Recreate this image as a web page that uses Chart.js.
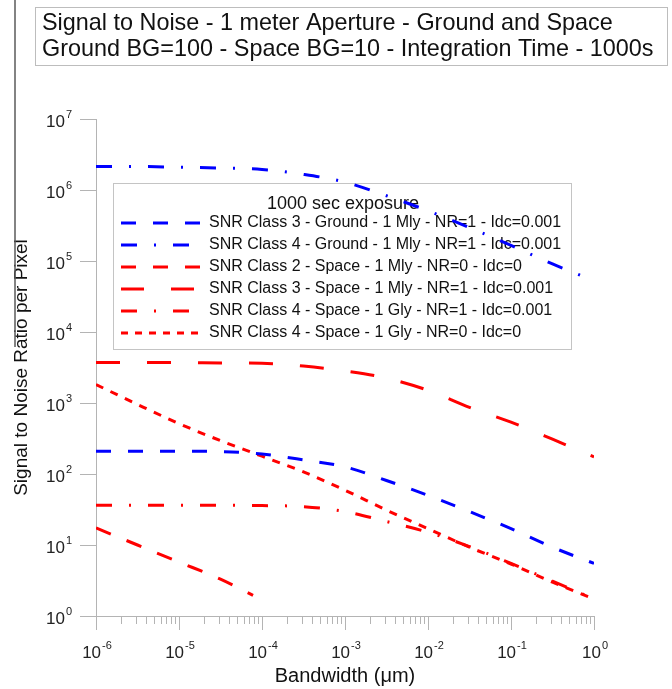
<!DOCTYPE html>
<html>
<head>
<meta charset="utf-8">
<script src="https://cdn.jsdelivr.net/npm/chart.js@4"></script>
<style>
  html, body { margin: 0; padding: 0; background: #fff; }
</style>
</head>
<body>
<canvas id="snrChart" width="672" height="689"></canvas>
<script>
const titleLines = [
    'Signal to Noise - 1 meter Aperture - Ground and Space',
    'Ground BG=100 - Space BG=10 - Integration Time - 1000s'
];
const legendTitle = '1000 sec exposure';

// bandwidth in micrometres (half-decade steps)
const bandwidth = [1e-6, 3.16e-6, 1e-5, 3.16e-5, 1e-4, 3.16e-4, 1e-3, 3.16e-3, 1e-2, 3.16e-2, 0.1, 0.316, 1];
const bandwidthC4Ground = [1e-6, 3.16e-6, 1e-5, 3.16e-5, 1e-4, 3.16e-4, 1e-3, 3.16e-3, 1e-2, 3.16e-2, 0.1, 0.316, 0.68];
const bandwidthC2Space = [1e-6, 3.16e-6, 1e-5, 3.16e-5, 7.8e-5];

const xTicks = [1e-6, 1e-5, 1e-4, 1e-3, 1e-2, 1e-1, 1];
const yTicks = [1, 10, 100, 1e3, 1e4, 1e5, 1e6, 1e7];

const snrC3Ground = [209, 209, 209, 207, 191, 158, 126, 81, 50, 29.5, 17, 9.3, 5.5];
const snrC4Ground = [2.14e6, 2.14e6, 2.09e6, 2.04e6, 1.95e6, 1.66e6, 1.29e6, 8.3e5, 5.1e5, 2.95e5, 1.66e5, 9.1e4, 6.3e4];
const snrC2Space = [17.4, 10, 5.75, 3.3, 1.95];
const snrC3Space = [3720, 3720, 3720, 3670, 3630, 3310, 2820, 2240, 1510, 870, 537, 309, 174];
const snrC4SpaceNR1 = [36.3, 36.3, 36.3, 36.3, 35.9, 34.7, 29.5, 21.4, 15.1, 9.5, 5.5, 3.1, 1.74];
const snrC4SpaceNR0 = [1820, 955, 513, 295, 178, 107, 59, 31, 17, 9.3, 5.4, 3.0, 1.74];

const FONT = '"Liberation Sans", Arial, sans-serif';
const BLUE = '#0000ff';
const RED = '#ff0000';
const GREY = '#b4b4b4';

const pts = (xs, ys) => ys.map((v, i) => ({ x: xs[i], y: v }));
const expOf = v => String(Math.round(Math.log10(v)));

// title box, legend box and the stray frame line of the original
const frames = {
    id: 'frames',
    beforeDatasetsDraw(chart) {
        const ctx = chart.ctx;
        ctx.save();
        ctx.strokeStyle = '#5a5a5a';
        ctx.lineWidth = 1.5;
        ctx.beginPath();
        ctx.moveTo(15, 0);
        ctx.lineTo(15, 347);
        ctx.stroke();

        ctx.strokeStyle = '#bdbdbd';
        ctx.lineWidth = 1;
        ctx.strokeRect(35.5, 7.5, 632, 58);
        ctx.fillStyle = '#111';
        ctx.font = '23.4px ' + FONT;
        ctx.textBaseline = 'middle';
        titleLines.forEach((t, i) => ctx.fillText(t, 42, 24 + i * 26));

        ctx.strokeStyle = '#c4c4c4';
        ctx.strokeRect(113.5, 183.5, 458, 166);
        ctx.font = '18px ' + FONT;
        ctx.textAlign = 'center';
        ctx.fillText(legendTitle, 343, 204);
        ctx.textAlign = 'left';
        ctx.font = '16px ' + FONT;
        chart.data.datasets.forEach((ds, i) => {
            const ly = 223 + i * 22;
            ctx.strokeStyle = ds.borderColor;
            ctx.lineWidth = 3;
            ctx.setLineDash(ds.legendDash);
            ctx.beginPath();
            ctx.moveTo(121, ly);
            ctx.lineTo(202, ly);
            ctx.stroke();
            ctx.setLineDash([]);
            ctx.fillStyle = '#111';
            ctx.fillText(ds.label, 209, ly);
        });
        ctx.restore();
    }
};

// minor x ticks and the 10^n tick labels with raised exponents
const axisDecor = {
    id: 'axisDecor',
    afterDraw(chart) {
        const sx = chart.scales.x, sy = chart.scales.y, ctx = chart.ctx;
        const area = chart.chartArea;
        ctx.save();
        ctx.strokeStyle = GREY;
        ctx.lineWidth = 1;
        ctx.beginPath();
        for (let e = -6; e < 0; e++) {
            for (let k = 2; k <= 9; k++) {
                const px = Math.round(sx.getPixelForValue(k * Math.pow(10, e))) + 0.5;
                ctx.moveTo(px, area.bottom);
                ctx.lineTo(px, area.bottom + 8);
            }
        }
        ctx.stroke();

        ctx.fillStyle = '#222';
        ctx.textBaseline = 'middle';
        ctx.textAlign = 'left';
        const label = (v, left, cy) => {
            ctx.font = '17px ' + FONT;
            ctx.fillText('10', left, cy);
            const bw = ctx.measureText('10').width;
            ctx.font = '11px ' + FONT;
            ctx.fillText(expOf(v), left + bw + 1, cy - 7);
        };
        const widthOf = v => {
            ctx.font = '17px ' + FONT;
            const bw = ctx.measureText('10').width;
            ctx.font = '11px ' + FONT;
            return bw + 1 + ctx.measureText(expOf(v)).width;
        };
        sx.ticks.forEach(t => {
            const px = sx.getPixelForValue(t.value);
            label(t.value, px - widthOf(t.value) / 2 + 1, area.bottom + 37);
        });
        sy.ticks.forEach(t => {
            const py = sy.getPixelForValue(t.value);
            label(t.value, area.left - 24 - widthOf(t.value), py + 3);
        });
        ctx.restore();
    }
};

new Chart(document.getElementById('snrChart'), {
    type: 'line',
    data: {
        datasets: [
            { label: 'SNR Class 3 - Ground - 1 Mly - NR=1 - Idc=0.001', data: pts(bandwidth, snrC3Ground),
              borderColor: BLUE, borderDash: [15, 17], legendDash: [15, 17] },
            { label: 'SNR Class 4 - Ground - 1 Mly - NR=1 - Idc=0.001', data: pts(bandwidthC4Ground, snrC4Ground),
              borderColor: BLUE, borderDash: [16, 17, 2, 17], legendDash: [16, 17, 2, 17] },
            { label: 'SNR Class 2 - Space - 1 Mly - NR=0 - Idc=0', data: pts(bandwidthC2Space, snrC2Space),
              borderColor: RED, borderDash: [16, 17], legendDash: [15, 17] },
            { label: 'SNR Class 3 - Space - 1 Mly - NR=1 - Idc=0.001', data: pts(bandwidth, snrC3Space),
              borderColor: RED, borderDash: [24, 27], legendDash: [23, 27] },
            { label: 'SNR Class 4 - Space - 1 Gly - NR=1 - Idc=0.001', data: pts(bandwidth, snrC4SpaceNR1),
              borderColor: RED, borderDash: [16, 17, 2, 17], legendDash: [16, 17, 2, 17] },
            { label: 'SNR Class 4 - Space - 1 Gly - NR=0 - Idc=0', data: pts(bandwidth, snrC4SpaceNR0),
              borderColor: RED, borderDash: [8, 8], legendDash: [7, 7] }
        ]
    },
    options: {
        responsive: false,
        animation: false,
        layout: { padding: { left: 0, top: 119, right: 78, bottom: 0 } },
        elements: {
            point: { radius: 0 },
            line: { borderWidth: 3, borderCapStyle: 'butt', cubicInterpolationMode: 'monotone', fill: false }
        },
        plugins: { legend: { display: false }, tooltip: { enabled: false } },
        scales: {
            x: {
                type: 'logarithmic', min: 1e-6, max: 1,
                afterFit: s => { s.height = 73; },
                afterBuildTicks: s => { s.ticks = xTicks.map(v => ({ value: v })); },
                ticks: { display: false, autoSkip: false },
                grid: { drawOnChartArea: false, tickLength: 14, color: GREY },
                border: { color: GREY },
                title: { display: true, text: 'Bandwidth (\u03bcm)', color: '#111',
                         font: { size: 20, family: FONT }, padding: { top: 0, bottom: 1 } }
            },
            y: {
                type: 'logarithmic', min: 1, max: 1e7,
                afterFit: s => { s.width = 96; },
                afterBuildTicks: s => { s.ticks = yTicks.map(v => ({ value: v })); },
                ticks: { display: false, autoSkip: false },
                grid: { drawOnChartArea: false, tickLength: 16, color: GREY },
                border: { color: GREY },
                title: { display: true, text: 'Signal to Noise Ratio per Pixel', color: '#111',
                         font: { size: 19, family: FONT }, padding: { top: 10, bottom: 0 } }
            }
        }
    },
    plugins: [frames, axisDecor]
});
</script>
</body>
</html>
